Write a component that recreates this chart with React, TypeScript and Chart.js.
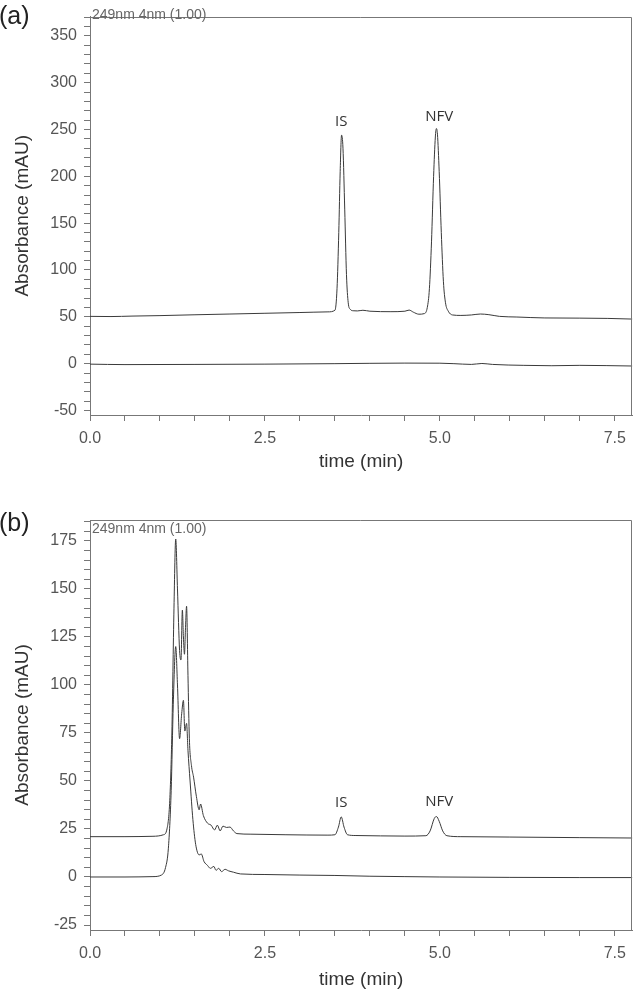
import React, { useEffect, useRef } from "react";
import { Chart, registerables } from "chart.js";

Chart.register(...registerables);

// ---------- Shared axis data ----------
const xTickValues = [0, 2.5, 5.0, 7.5];
const xMin = 0;
const xMax = 7.75;
const xTitle = "time (min)";
const yTitle = "Absorbance (mAU)";
const headerText = "249nm 4nm (1.00)";

// ---------- Panel (a) ----------
const aUpperTime = [0.0, 0.3, 0.6, 1.0, 1.5, 2.0, 2.5, 3.0, 3.4, 3.5, 3.53, 3.555, 3.575, 3.595, 3.615, 3.64, 3.665, 3.69, 3.72, 3.76, 3.82, 3.9, 4.0, 4.3, 4.5, 4.56, 4.62, 4.7, 4.78, 4.82, 4.85, 4.88, 4.91, 4.935, 4.95, 4.965, 4.99, 5.02, 5.05, 5.08, 5.12, 5.18, 5.3, 5.45, 5.58, 5.7, 5.85, 6.1, 6.5, 7.0, 7.4, 7.75];
const aUpperAbs = [50.5, 50.3, 50.8, 51.3, 52.2, 53.0, 53.8, 54.6, 55.3, 57, 80, 140, 205, 244, 230, 165, 95, 65, 58, 56.5, 56.3, 57, 56, 55.5, 56, 57.2, 55, 52.8, 53.5, 60, 80, 130, 200, 242, 251, 245, 205, 140, 88, 65, 56, 52, 51.5, 52, 53, 52.3, 50.5, 49.8, 48.8, 48.6, 48.3, 47.6];
const aLowerTime = [0.0, 0.5, 1.5, 2.5, 3.5, 4.5, 5.0, 5.2, 5.45, 5.6, 5.75, 6.2, 6.6, 7.0, 7.75];
const aLowerAbs = [-0.5, -1.0, -0.8, -0.5, 0.0, 0.6, 0.5, 0.0, -0.8, 0.2, -0.8, -1.8, -2.2, -1.8, -2.5];
const aYMin = -54.8;
const aYMax = 370.5;
const aYStep = 10;
const aYTickValues = [-50, 0, 50, 100, 150, 200, 250, 300, 350];
const aPeakNames = ["IS", "NFV"];
const aPeakNameTime = [3.59, 4.99];
const aPeakNameAbs = [258, 264];

// ---------- Panel (b) ----------
const bUpperTime = [0.0, 0.5, 0.9, 1.05, 1.1, 1.14, 1.17, 1.2, 1.225, 1.25, 1.28, 1.3, 1.32, 1.335, 1.35, 1.365, 1.38, 1.4, 1.42, 1.45, 1.48, 1.52, 1.56, 1.58, 1.62, 1.68, 1.73, 1.78, 1.82, 1.86, 1.9, 1.95, 2.0, 2.05, 2.1, 2.3, 2.8, 3.4, 3.5, 3.55, 3.59, 3.63, 3.68, 3.8, 4.5, 4.8, 4.86, 4.92, 4.95, 4.99, 5.04, 5.1, 5.3, 6.0, 7.0, 7.75];
const bUpperAbs = [21.0, 21.0, 21.2, 22, 25, 40, 75, 140, 176, 150, 118, 113, 139, 125, 116, 130, 141, 105, 72, 58, 52, 42, 35, 38, 32, 28, 27, 24.5, 27, 24, 26.5, 25.8, 26, 24, 22.6, 22.3, 22, 21.8, 22, 26, 31.3, 26, 22, 21.6, 21.3, 21.5, 24, 30.5, 31.5, 29, 24, 21.5, 21, 20.8, 20.5, 20.3];
const bLowerTime = [0.0, 0.5, 0.9, 1.02, 1.08, 1.12, 1.16, 1.19, 1.225, 1.25, 1.28, 1.31, 1.335, 1.355, 1.38, 1.4, 1.43, 1.47, 1.51, 1.56, 1.59, 1.63, 1.68, 1.72, 1.77, 1.8, 1.84, 1.88, 1.93, 1.98, 2.05, 2.15, 2.5, 3.0, 3.5, 4.0, 4.5, 5.0, 6.0, 7.0, 7.75];
const bLowerAbs = [0.0, 0.0, 0.2, 1.0, 5, 15, 45, 90, 120, 100, 72, 85, 92, 76, 80, 66, 50, 30, 17, 11.5, 12, 8, 6, 4.5, 5.5, 3.5, 4.5, 2.8, 4, 3.2, 2.5, 1.6, 1.3, 1.0, 0.8, 0.4, 0.2, 0.0, -0.2, -0.3, -0.3];
const bYMin = -27.6;
const bYMax = 185.9;
const bYStep = 5;
const bYTickValues = [-25, 0, 25, 50, 75, 100, 125, 150, 175];
const bPeakNames = ["IS", "NFV"];
const bPeakNameTime = [3.59, 4.99];
const bPeakNameAbs = [38.8, 39];

const FONT = "'Liberation Sans', Arial, Helvetica, sans-serif";
const AXIS_COLOR = "#777";
const LINE_COLOR = "#3a3a3a";

const isIn = (list: number[], v: number) => list.some((t) => Math.abs(t - v) < 1e-6);

const framePlugin = {
  id: "frame",
  afterDraw(chart: any) {
    const { ctx, chartArea } = chart;
    ctx.save();
    ctx.strokeStyle = AXIS_COLOR;
    ctx.lineWidth = 1;
    ctx.beginPath();
    const top = Math.round(chartArea.top) + 0.5;
    const right = Math.round(chartArea.right) - 0.5;
    ctx.moveTo(chartArea.left, top);
    ctx.lineTo(right, top);
    ctx.lineTo(right, chartArea.bottom);
    ctx.stroke();
    ctx.restore();
  },
};

function makePeakLabelPlugin(names: string[], times: number[], abs: number[]) {
  return {
    id: "peakLabels",
    afterDatasetsDraw(chart: any) {
      const { ctx } = chart;
      const xs = chart.scales.x;
      const ys = chart.scales.y;
      ctx.save();
      ctx.fillStyle = "#333";
      ctx.font = "15px 'Open Sans', sans-serif";
      ctx.textAlign = "center";
      ctx.textBaseline = "middle";
      names.forEach((n, i) => {
        ctx.fillText(n, xs.getPixelForValue(times[i]), ys.getPixelForValue(abs[i]));
      });
      ctx.restore();
    },
  };
}

type PanelProps = {
  top: number;
  height: number;
  padTop: number;
  xAxisHeight: number;
  xTitlePad: number;
  upperT: number[];
  upperV: number[];
  lowerT: number[];
  lowerV: number[];
  yMin: number;
  yMax: number;
  yStep: number;
  yTicks: number[];
  names: string[];
  nameT: number[];
  nameV: number[];
  tag: string;
  tagCenter: number;
  headerCenter: number;
};

function Panel(p: PanelProps) {
  const ref = useRef<HTMLCanvasElement | null>(null);
  useEffect(() => {
    if (!ref.current) return;
    const toPts = (t: number[], v: number[]) => t.map((x, i) => ({ x, y: v[i] }));
    const ds = (t: number[], v: number[]) => ({
      data: toPts(t, v),
      borderColor: LINE_COLOR,
      borderWidth: 1,
      pointRadius: 0,
      fill: false,
      cubicInterpolationMode: "monotone" as const,
    });
    const chart = new Chart(ref.current, {
      type: "line",
      data: { datasets: [ds(p.upperT, p.upperV), ds(p.lowerT, p.lowerV)] },
      options: {
        responsive: false,
        animation: false,
        devicePixelRatio: 1,
        layout: { padding: { top: p.padTop, right: 1, bottom: 0, left: 0 } },
        plugins: {
          legend: { display: false },
          tooltip: { enabled: false },
          title: { display: false },
        },
        scales: {
          x: {
            type: "linear",
            min: xMin,
            max: xMax,
            afterFit: (s: any) => {
              s.height = p.xAxisHeight;
            },
            ticks: {
              stepSize: 0.5,
              includeBounds: false,
              autoSkip: false,
              maxRotation: 0,
              padding: 8,
              color: "#555",
              font: { family: FONT, size: 16 },
              callback: (v: any) => (isIn(xTickValues, Number(v)) ? Number(v).toFixed(1) : ""),
            },
            grid: { drawOnChartArea: false, drawTicks: true, tickLength: 6, color: AXIS_COLOR },
            border: { display: true, color: AXIS_COLOR },
            title: {
              display: true,
              text: xTitle,
              color: "#333",
              font: { family: FONT, size: 19 },
              padding: { top: 0, bottom: p.xTitlePad },
            },
          },
          y: {
            type: "linear",
            min: p.yMin,
            max: p.yMax,
            afterFit: (s: any) => {
              s.width = 90;
            },
            ticks: {
              stepSize: p.yStep,
              includeBounds: false,
              autoSkip: false,
              padding: 7,
              color: "#555",
              font: { family: FONT, size: 16 },
              callback: (v: any) => (isIn(p.yTicks, Number(v)) ? String(Math.round(Number(v))) : ""),
            },
            grid: { drawOnChartArea: false, drawTicks: true, tickLength: 6, color: AXIS_COLOR },
            border: { display: true, color: AXIS_COLOR },
            title: {
              display: true,
              text: yTitle,
              color: "#333",
              font: { family: FONT, size: 19 },
              padding: { top: 11, bottom: 0 },
            },
          },
        },
      },
      plugins: [framePlugin, makePeakLabelPlugin(p.names, p.nameT, p.nameV)],
    });
    return () => chart.destroy();
  }, []);

  return (
    <div style={{ position: "absolute", left: 0, top: p.top, width: 634, height: p.height }}>
      <canvas ref={ref} width={634} height={p.height} style={{ display: "block", width: 634, height: p.height }} />
      <div
        style={{
          position: "absolute",
          left: -1,
          top: p.tagCenter - 15,
          fontFamily: FONT,
          fontSize: 25,
          lineHeight: "30px",
          color: "#222",
        }}
      >
        {p.tag}
      </div>
      <div
        style={{
          position: "absolute",
          left: 92,
          top: p.headerCenter - 7,
          fontFamily: FONT,
          fontSize: 14,
          lineHeight: "14px",
          color: "#666",
          whiteSpace: "nowrap",
        }}
      >
        {headerText}
      </div>
    </div>
  );
}

export default function App() {
  return (
    <div style={{ position: "absolute", left: 0, top: 0, width: 634, height: 993, background: "#fff", overflow: "hidden" }}>
      <Panel
        top={0}
        height={480}
        padTop={5}
        xAxisHeight={65}
        xTitlePad={6.6}
        upperT={aUpperTime}
        upperV={aUpperAbs}
        lowerT={aLowerTime}
        lowerV={aLowerAbs}
        yMin={aYMin}
        yMax={aYMax}
        yStep={aYStep}
        yTicks={aYTickValues}
        names={aPeakNames}
        nameT={aPeakNameTime}
        nameV={aPeakNameAbs}
        tag="(a)"
        tagCenter={15}
        headerCenter={14}
      />
      <Panel
        top={480}
        height={513}
        padTop={40}
        xAxisHeight={63}
        xTitlePad={1.6}
        upperT={bUpperTime}
        upperV={bUpperAbs}
        lowerT={bLowerTime}
        lowerV={bLowerAbs}
        yMin={bYMin}
        yMax={bYMax}
        yStep={bYStep}
        yTicks={bYTickValues}
        names={bPeakNames}
        nameT={bPeakNameTime}
        nameV={bPeakNameAbs}
        tag="(b)"
        tagCenter={42}
        headerCenter={48}
      />
    </div>
  );
}
